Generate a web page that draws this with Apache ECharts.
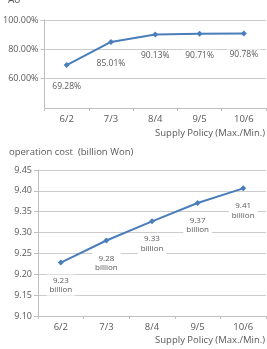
<!DOCTYPE html>
<html><head><meta charset="utf-8">
<script src="https://cdn.jsdelivr.net/npm/echarts@6/dist/echarts.min.js"></script>
<style>html,body{margin:0;padding:0;background:#fff}#c{width:267px;height:349px}</style>
</head><body><div id="c"></div>
<script>
var categories = ['6/2', '7/3', '8/4', '9/5', '10/6'];
var aoValues = [69.28, 85.01, 90.13, 90.71, 90.78];
var costValues = [9.228, 9.281, 9.327, 9.371, 9.406];
var aoTicks = [40, 60, 80, 100];
var costTicks = [9.10, 9.15, 9.20, 9.25, 9.30, 9.35, 9.40, 9.45];

var FONT = '"Open Sans", "Noto Sans", sans-serif';
var TXT = '#595959';
var LINE = '#4a7ebb';
var chart = echarts.init(document.getElementById('c'), null, {renderer: 'canvas'});

function xAx(gi) {
  return {
    type: 'category', gridIndex: gi, data: categories, boundaryGap: true,
    axisLine: {lineStyle: {color: '#bfbfbf'}},
    axisTick: {show: true, length: 3, lineStyle: {color: '#bfbfbf'}},
    axisLabel: {color: TXT, fontSize: 9.5, fontFamily: FONT, margin: 6}
  };
}
function yAx(gi, min, max, interval, fmt, showMin) {
  return {
    type: 'value', gridIndex: gi, min: min, max: max, interval: interval,
    axisLine: {show: true, lineStyle: {color: '#bfbfbf'}},
    axisTick: {show: true, length: 4, lineStyle: {color: '#bfbfbf'}},
    splitLine: {lineStyle: {color: '#cccccc'}},
    axisLabel: {color: TXT, fontSize: 9, fontFamily: FONT, margin: 6, formatter: fmt, showMinLabel: showMin}
  };
}

chart.setOption({
  animation: false,
  grid: [
    {left: 38, right: 1, top: 20, bottom: 241, containLabel: false},
    {left: 38, right: 1, top: 170, bottom: 33, containLabel: false}
  ],
  xAxis: [xAx(0), xAx(1)],
  yAxis: [
    yAx(0, aoTicks[0], aoTicks[aoTicks.length - 1], 20, function (v) { return v.toFixed(2) + '%'; }, false),
    yAx(1, costTicks[0], costTicks[costTicks.length - 1], 0.05, function (v) { return v.toFixed(2); }, true)
  ],
  series: [
    {
      type: 'line', xAxisIndex: 0, yAxisIndex: 0, data: aoValues,
      symbol: 'diamond', symbolSize: 6,
      lineStyle: {color: LINE, width: 2}, itemStyle: {color: LINE},
      label: {show: true, position: 'bottom', distance: 13, color: TXT, fontSize: 8.5, fontFamily: FONT,
        backgroundColor: '#fff', padding: [1, 3],
        formatter: function (p) { return p.value.toFixed(2) + '%'; }}
    },
    {
      type: 'line', xAxisIndex: 1, yAxisIndex: 1, data: costValues,
      symbol: 'diamond', symbolSize: 6,
      lineStyle: {color: LINE, width: 2}, itemStyle: {color: LINE},
      label: {show: true, position: 'bottom', distance: 9, color: TXT, fontSize: 8, fontFamily: FONT,
        backgroundColor: '#fff', padding: [1, 3], lineHeight: 9.5, align: 'center',
        formatter: function (p) { return p.value.toFixed(2) + '\nbillion'; }}
    }
  ],
  graphic: [
    {type: 'text', left: 8, top: -5, style: {text: 'Ao', fill: TXT, font: '10px ' + FONT}},
    {type: 'text', right: 2, top: 128, style: {text: 'Supply Policy (Max./Min.)', fill: TXT, font: '9.5px ' + FONT}},
    {type: 'text', left: 9, top: 147, style: {text: 'operation cost  (billion Won)', fill: TXT, font: '9.5px ' + FONT}},
    {type: 'text', right: 2, top: 335, style: {text: 'Supply Policy (Max./Min.)', fill: TXT, font: '9.5px ' + FONT}}
  ]
});
</script></body></html>
